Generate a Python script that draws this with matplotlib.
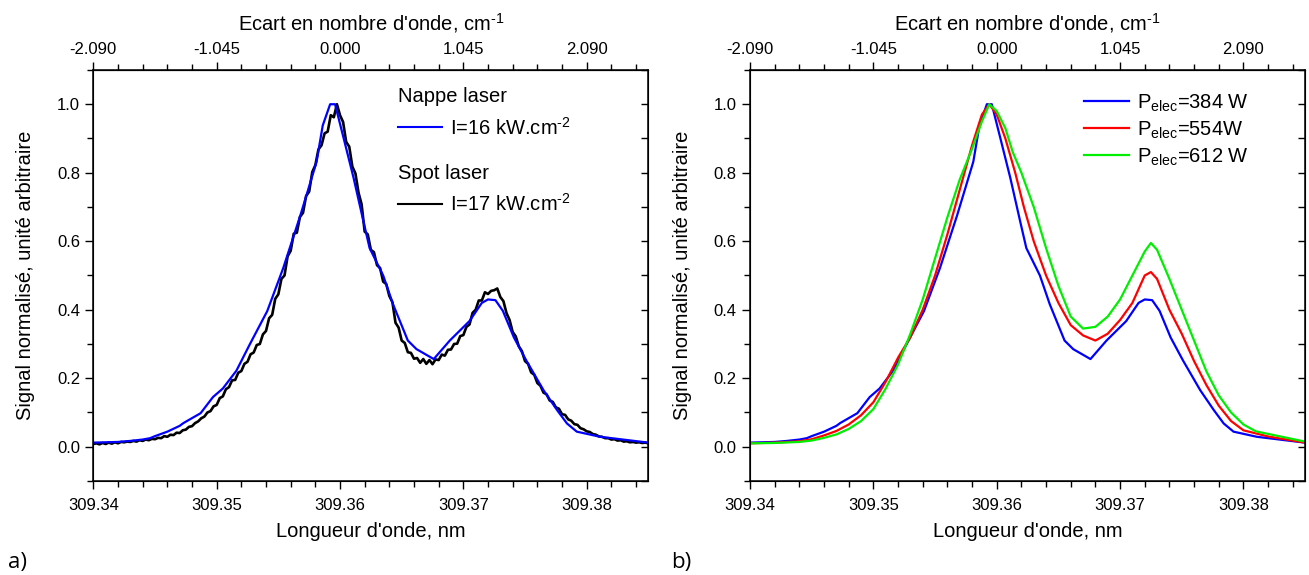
import matplotlib
matplotlib.use("Agg")
import matplotlib.pyplot as plt
import numpy as np
from matplotlib.lines import Line2D
from matplotlib.ticker import MultipleLocator, FixedLocator, FormatStrFormatter

plt.rcParams['font.family'] = ['Liberation Sans', 'DejaVu Sans']
plt.rcParams['mathtext.fontset'] = 'custom'
plt.rcParams['mathtext.rm'] = 'Liberation Sans'
plt.rcParams['mathtext.it'] = 'Liberation Sans:italic'

# --- data -----------------------------------------------------------------
# spot laser (black, noisy, uniformly sampled 309.340 .. 309.385 nm)
spot_wl = np.linspace(309.34, 309.385, 181)
spot_17 = [
    0.008, 0.010, 0.007, 0.011, 0.008, 0.012, 0.009, 0.013, 0.010, 0.014,
    0.013, 0.015, 0.014, 0.017, 0.015, 0.019, 0.017, 0.021, 0.019, 0.023,
    0.022, 0.026, 0.025, 0.031, 0.029, 0.035, 0.034, 0.041, 0.040, 0.048,
    0.050, 0.058, 0.060, 0.069, 0.074, 0.083, 0.088, 0.100, 0.104, 0.118,
    0.122, 0.142, 0.147, 0.168, 0.174, 0.194, 0.195, 0.216, 0.221, 0.242,
    0.248, 0.270, 0.275, 0.297, 0.300, 0.328, 0.338, 0.375, 0.385, 0.432,
    0.445, 0.490, 0.500, 0.556, 0.572, 0.622, 0.625, 0.671, 0.683, 0.732,
    0.745, 0.802, 0.822, 0.868, 0.880, 0.915, 0.920, 0.968, 0.962, 1.000,
    0.968, 0.948, 0.890, 0.876, 0.818, 0.798, 0.742, 0.708, 0.628, 0.620,
    0.575, 0.568, 0.530, 0.522, 0.482, 0.475, 0.440, 0.422, 0.362, 0.348,
    0.310, 0.303, 0.276, 0.274, 0.257, 0.259, 0.245, 0.256, 0.242, 0.253,
    0.241, 0.255, 0.253, 0.269, 0.266, 0.283, 0.284, 0.300, 0.301, 0.323,
    0.326, 0.350, 0.357, 0.391, 0.400, 0.427, 0.427, 0.451, 0.446, 0.455,
    0.457, 0.462, 0.437, 0.425, 0.390, 0.370, 0.335, 0.322, 0.293, 0.279,
    0.250, 0.242, 0.217, 0.210, 0.186, 0.178, 0.158, 0.153, 0.135, 0.131,
    0.115, 0.111, 0.095, 0.093, 0.080, 0.076, 0.066, 0.064, 0.054, 0.051,
    0.045, 0.043, 0.037, 0.035, 0.030, 0.029, 0.025, 0.025, 0.021, 0.022,
    0.018, 0.019, 0.015, 0.016, 0.013, 0.014, 0.012, 0.013, 0.011, 0.012,
    0.010,
]

# nappe laser / P=384 W (blue)
wl_384 = [309.340, 309.341, 309.342, 309.343, 309.344, 309.3446, 309.345,
          309.346, 309.347, 309.3473, 309.3487, 309.3497, 309.3505, 309.3516,
          309.3527, 309.3541, 309.3554, 309.3568, 309.3581, 309.3586,
          309.3592, 309.3596, 309.3603, 309.3611, 309.3619, 309.3624,
          309.3635, 309.3643, 309.3655, 309.3662, 309.3676, 309.3689,
          309.3705, 309.3715, 309.3720, 309.3726, 309.3732, 309.3741,
          309.3751, 309.3765, 309.3776, 309.3784, 309.3792, 309.3811,
          309.3850]
sig_384 = [0.012, 0.013, 0.014, 0.017, 0.021, 0.025, 0.031,
           0.044, 0.061, 0.069, 0.098, 0.145, 0.170, 0.222,
           0.300, 0.396, 0.522, 0.677, 0.832, 0.938,
           1.000, 1.000, 0.900, 0.785, 0.658, 0.580,
           0.500, 0.416, 0.310, 0.285, 0.256, 0.310,
           0.367, 0.420, 0.430, 0.428, 0.397, 0.319,
           0.252, 0.165, 0.107, 0.068, 0.044, 0.029,
           0.012]

# P=554 W (red)
wl_554 = [309.340, 309.342, 309.344, 309.345, 309.346, 309.347, 309.348,
          309.349, 309.350, 309.351, 309.352, 309.353, 309.354, 309.355,
          309.356, 309.357, 309.358, 309.3588, 309.3594, 309.3600, 309.3607,
          309.3615, 309.3622, 309.363, 309.364, 309.365, 309.366, 309.367,
          309.368, 309.369, 309.370, 309.371, 309.372, 309.3725, 309.373,
          309.374, 309.375, 309.376, 309.377, 309.378, 309.379, 309.380,
          309.382, 309.385]
sig_554 = [0.010, 0.012, 0.016, 0.022, 0.033, 0.046, 0.065,
           0.092, 0.130, 0.190, 0.260, 0.320, 0.400, 0.500,
           0.620, 0.750, 0.880, 0.970, 1.000, 0.970, 0.900,
           0.800, 0.700, 0.600, 0.500, 0.420, 0.355, 0.325,
           0.310, 0.330, 0.370, 0.420, 0.500, 0.510, 0.490,
           0.400, 0.330, 0.250, 0.180, 0.120, 0.075, 0.048,
           0.030, 0.012]

# P=612 W (green)
wl_612 = [309.340, 309.342, 309.344, 309.345, 309.346, 309.347, 309.348,
          309.349, 309.350, 309.351, 309.352, 309.353, 309.354, 309.355,
          309.356, 309.357, 309.358, 309.3588, 309.3594, 309.3600, 309.3607,
          309.3613, 309.362, 309.363, 309.364, 309.365, 309.366, 309.367,
          309.368, 309.369, 309.370, 309.371, 309.372, 309.3725, 309.373,
          309.374, 309.375, 309.376, 309.377, 309.378, 309.379, 309.380,
          309.381, 309.383, 309.385]
sig_612 = [0.010, 0.011, 0.014, 0.018, 0.026, 0.036, 0.052,
           0.075, 0.110, 0.170, 0.240, 0.330, 0.430, 0.550,
           0.670, 0.780, 0.870, 0.950, 1.000, 0.980, 0.930,
           0.860, 0.800, 0.700, 0.580, 0.470, 0.380, 0.345,
           0.350, 0.380, 0.430, 0.500, 0.570, 0.595, 0.575,
           0.490, 0.400, 0.310, 0.220, 0.150, 0.100, 0.065,
           0.045, 0.030, 0.015]

wl_center = 309.36        # 0 cm-1 on the top axis
cm_per_nm = 104.5         # 0.01 nm -> 1.045 cm-1
top_ticks = [-2.090, -1.045, 0.0, 1.045, 2.090]

LABEL_FS = 14.5
TICK_FS = 12


def style_axes(ax):
    ax.set_xlim(309.34, 309.385)
    ax.set_ylim(-0.1, 1.1)
    ax.xaxis.set_major_locator(MultipleLocator(0.01))
    ax.xaxis.set_minor_locator(MultipleLocator(0.002))
    ax.xaxis.set_major_formatter(FormatStrFormatter('%.2f'))
    ax.yaxis.set_major_locator(MultipleLocator(0.2))
    ax.yaxis.set_minor_locator(MultipleLocator(0.1))
    ax.yaxis.set_major_formatter(FormatStrFormatter('%.1f'))
    ax.tick_params(which='both', direction='out', labelsize=TICK_FS, width=1)
    ax.tick_params(which='major', length=6)
    ax.tick_params(which='minor', length=4)
    ax.tick_params(axis='x', pad=6)
    for s in ax.spines.values():
        s.set_linewidth(1.1)
    ax.set_xlabel("Longueur d'onde, nm", fontsize=LABEL_FS, labelpad=7)
    ax.set_ylabel("Signal normalisé, unité arbitraire", fontsize=LABEL_FS,
                  labelpad=16)

    # inward ticks on the right spine
    rax = ax.twinx()
    rax.set_ylim(ax.get_ylim())
    rax.yaxis.set_major_locator(MultipleLocator(0.1))
    rax.tick_params(direction='in', length=5, width=1, labelright=False)

    # top axis in wavenumber shift
    top = ax.secondary_xaxis(
        'top',
        functions=(lambda w: (w - wl_center) * cm_per_nm,
                   lambda d: d / cm_per_nm + wl_center))
    top.xaxis.set_major_locator(FixedLocator(top_ticks))
    top.xaxis.set_minor_locator(FixedLocator(-2.090 + 0.209 * np.arange(23)))
    top.xaxis.set_major_formatter(FormatStrFormatter('%.3f'))
    top.tick_params(which='both', direction='out', labelsize=TICK_FS, width=1)
    top.tick_params(which='major', length=6)
    top.tick_params(which='minor', length=4)
    top.set_xlabel(r"Ecart en nombre d'onde, cm$^{\text{-}1}$",
                   fontsize=LABEL_FS, labelpad=8)
    return ax


fig = plt.figure(figsize=(13.09, 5.75), dpi=100)
ax1 = fig.add_axes([0.0713, 0.1635, 0.424, 0.7148])
ax2 = fig.add_axes([0.573, 0.1635, 0.424, 0.7148])

# panel a
ax1.plot(wl_384, sig_384, color='#0000FF', lw=1.6, zorder=3)
ax1.plot(spot_wl, spot_17, color='black', lw=1.9, zorder=2)
style_axes(ax1)

leg_kw = dict(loc='upper left', frameon=False, fontsize=LABEL_FS,
              title_fontsize=LABEL_FS, handlelength=2.2, handletextpad=0.4,
              borderpad=0, alignment='left')
leg1 = ax1.legend([Line2D([], [], color='#0000FF', lw=1.5)],
                  [r'I=16 kW.cm$^{\text{-}2}$'], title='Nappe laser',
                  bbox_to_anchor=(0.531, 0.982), **leg_kw)
ax1.add_artist(leg1)
ax1.legend([Line2D([], [], color='black', lw=1.5)],
           [r'I=17 kW.cm$^{\text{-}2}$'], title='Spot laser',
           bbox_to_anchor=(0.531, 0.796), **leg_kw)

# panel b
ax2.plot(wl_384, sig_384, color='#0000FF', lw=1.6,
         label=r'P$_{\mathrm{elec}}$=384 W')
ax2.plot(wl_554, sig_554, color='#FF0000', lw=1.6,
         label=r'P$_{\mathrm{elec}}$=554W')
ax2.plot(wl_612, sig_612, color='#00EE00', lw=1.6,
         label=r'P$_{\mathrm{elec}}$=612 W')
style_axes(ax2)
ax2.legend(loc='upper left', bbox_to_anchor=(0.584, 0.97), frameon=False,
           fontsize=LABEL_FS, handlelength=2.2, handletextpad=0.4,
           labelspacing=0.28, borderpad=0)

fig.text(0.006, 0.012, 'a)', fontsize=16, family=['Open Sans', 'DejaVu Sans'])
fig.text(0.513, 0.012, 'b)', fontsize=16, family=['Open Sans', 'DejaVu Sans'])

fig.savefig('out.png', dpi=100)
